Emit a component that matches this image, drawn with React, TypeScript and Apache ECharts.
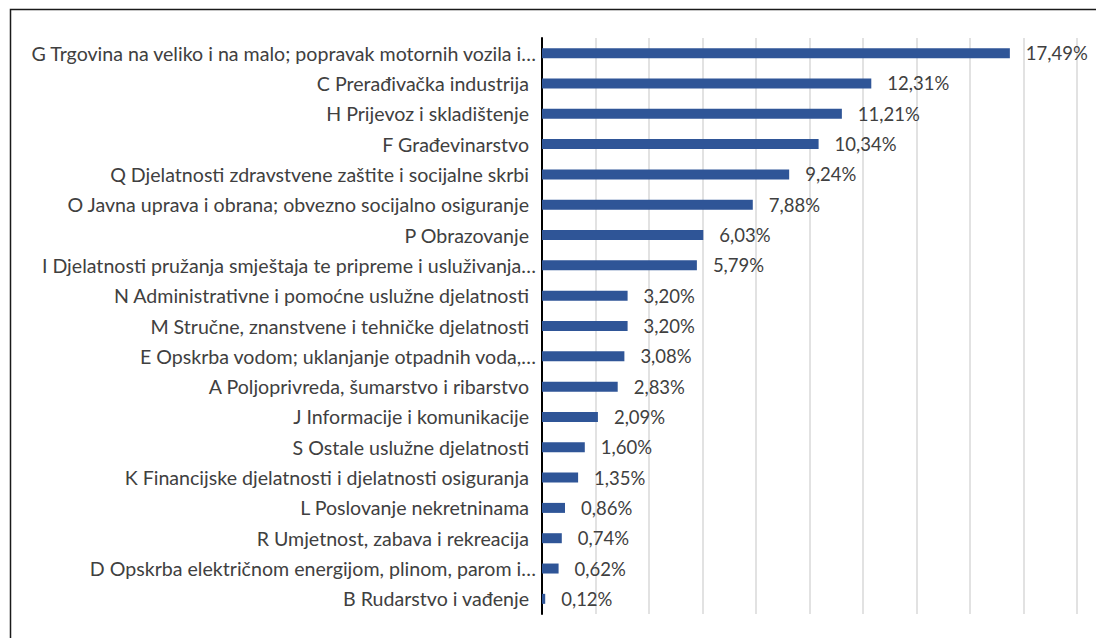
import React, { useEffect, useRef } from "react";
import * as echarts from "echarts";

const categories: string[] = [
  "G Trgovina na veliko i na malo; popravak motornih vozila i…",
  "C Prerađivačka industrija",
  "H Prijevoz i skladištenje",
  "F Građevinarstvo",
  "Q Djelatnosti zdravstvene zaštite i socijalne skrbi",
  "O Javna uprava i obrana; obvezno socijalno osiguranje",
  "P Obrazovanje",
  "I Djelatnosti pružanja smještaja te pripreme i usluživanja…",
  "N Administrativne i pomoćne uslužne djelatnosti",
  "M Stručne, znanstvene i tehničke djelatnosti",
  "E Opskrba vodom; uklanjanje otpadnih voda,…",
  "A Poljoprivreda, šumarstvo i ribarstvo",
  "J Informacije i komunikacije",
  "S Ostale uslužne djelatnosti",
  "K Financijske djelatnosti i djelatnosti osiguranja",
  "L Poslovanje nekretninama",
  "R Umjetnost, zabava i rekreacija",
  "D Opskrba električnom energijom, plinom, parom i…",
  "B Rudarstvo i vađenje",
];

const shares: number[] = [
  17.49, 12.31, 11.21, 10.34, 9.24, 7.88, 6.03, 5.79, 3.2, 3.2, 3.08, 2.83,
  2.09, 1.6, 1.35, 0.86, 0.74, 0.62, 0.12,
];

const xMin = 0;
const xMax = 20;
const xStep = 2;

const FONT = "Lato";
const TEXT = "#404040";

export default function App() {
  const ref = useRef<HTMLDivElement>(null);

  useEffect(() => {
    if (!ref.current) return;
    const chart = echarts.init(ref.current, undefined, { renderer: "svg" });
    chart.setOption({
      animation: false,
      backgroundColor: "#ffffff",
      grid: { left: 542, right: 19, top: 38, bottom: 24, containLabel: false },
      graphic: [
        {
          type: "rect",
          silent: true,
          shape: { x: 10.5, y: 9.5, width: 1200, height: 700 },
          style: { fill: "none", stroke: "#1a1a1a", lineWidth: 1.5 },
        },
      ],
      xAxis: {
        type: "value",
        min: xMin,
        max: xMax,
        interval: xStep,
        axisLabel: { show: false },
        axisLine: { show: false },
        axisTick: { show: false },
        splitLine: { show: true, lineStyle: { color: "#d9d9d9", width: 1.5 } },
      },
      yAxis: {
        type: "category",
        data: categories,
        inverse: true,
        axisTick: { show: false },
        axisLine: { show: true, lineStyle: { color: "#000000", width: 2 } },
        axisLabel: {
          margin: 6,
          formatter: (v: string) =>
            v.endsWith("…") ? `{b|${v}}` : `{a|${v}}`,
          rich: {
            a: {
              fontFamily: FONT,
              fontSize: 19.6,
              color: TEXT,
              padding: [0, 7, 0, 0],
            },
            b: { fontFamily: FONT, fontSize: 19.6, color: TEXT },
          },
        },
      },
      series: [
        {
          type: "bar",
          data: shares,
          barWidth: 10,
          itemStyle: { color: "#2f5597" },
          label: {
            show: true,
            position: "right",
            distance: 16,
            fontFamily: FONT,
            fontSize: 18.5,
            color: TEXT,
            formatter: (p: any) => p.value.toFixed(2).replace(".", ",") + "%",
          },
        },
      ],
    });
    return () => chart.dispose();
  }, []);

  return (
    <div
      ref={ref}
      style={{ position: "fixed", left: 0, top: 0, width: 1096, height: 638, background: "#fff" }}
    />
  );
}
